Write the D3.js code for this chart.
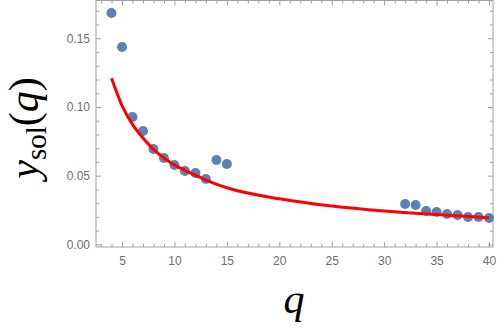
<!DOCTYPE html>
<html>
<head>
<meta charset="utf-8">
<script src="https://cdn.jsdelivr.net/npm/d3@7"></script>
<style>
  body { margin: 0; background: #fff; }
  svg { display: block; }
  .tick text { font-family: "Liberation Sans", Arial, sans-serif; font-size: 12px; fill: #6e6e6e; }
  .tick line, .domain { stroke: #a0a0a0; }
</style>
</head>
<body>
<svg id="chart" width="498" height="334"></svg>
<script>
// data points
var qValues = [4, 5, 6, 7, 8, 9, 10, 11, 12, 13, 14, 15, 32, 33, 34, 35, 36, 37, 38, 39, 40];
var ySol = [0.1684, 0.1437, 0.0927, 0.0825, 0.0694, 0.0629, 0.0578, 0.0534, 0.0520, 0.0476, 0.0614, 0.0585,
            0.0294, 0.0287, 0.0243, 0.0236, 0.0221, 0.0214, 0.0199, 0.0199, 0.0192];

// fitted curve, sampled by eye
var fitQ = [4, 5, 6, 7, 8, 9, 10, 11, 12, 13, 15, 20, 25, 30, 35, 40];
var fitY = [0.1209, 0.1010, 0.0873, 0.0774, 0.0692, 0.0629, 0.0578, 0.0539, 0.0503, 0.0468, 0.0412, 0.0332, 0.0279, 0.0243, 0.0217, 0.0193];

var xMajor = [5, 10, 15, 20, 25, 30, 35, 40];
var yMajor = [0, 0.05, 0.10, 0.15];

var plotLeft = 96, plotRight = 493, plotTop = 0.5, plotBottom = 247;

var svg = d3.select("#chart");

var x = d3.scaleLinear().domain([2.52, 40.38]).range([plotLeft, plotRight]);
var y = d3.scaleLinear().domain([-0.0019, 0.1775]).range([plotBottom, plotTop]);

var xMinor = d3.range(3, 41).filter(function (d) { return d % 5 !== 0; });
var yMinor = d3.range(1, 18).filter(function (d) { return d % 5 !== 0; }).map(function (d) { return d / 100; });

// frame
svg.append("rect")
    .attr("x", plotLeft).attr("y", plotTop)
    .attr("width", plotRight - plotLeft).attr("height", plotBottom - plotTop)
    .attr("fill", "none").attr("stroke", "#a0a0a0");

function addAxis(axis, tx, ty) {
    var g = svg.append("g").attr("transform", "translate(" + tx + "," + ty + ")").call(axis);
    g.select(".domain").remove();
    return g;
}

// bottom
addAxis(d3.axisBottom(x).tickValues(xMajor).tickSizeInner(-5).tickPadding(9).tickFormat(d3.format("d")), 0, plotBottom);
addAxis(d3.axisBottom(x).tickValues(xMinor).tickSizeInner(-3).tickFormat(""), 0, plotBottom);
// top
addAxis(d3.axisTop(x).tickValues(xMajor).tickSizeInner(-5).tickFormat(""), 0, plotTop);
addAxis(d3.axisTop(x).tickValues(xMinor).tickSizeInner(-3).tickFormat(""), 0, plotTop);
// left
addAxis(d3.axisLeft(y).tickValues(yMajor).tickSizeInner(-5).tickPadding(6).tickFormat(d3.format(".2f")), plotLeft, 0);
addAxis(d3.axisLeft(y).tickValues(yMinor).tickSizeInner(-3).tickFormat(""), plotLeft, 0);
// right
addAxis(d3.axisRight(y).tickValues(yMajor).tickSizeInner(-5).tickFormat(""), plotRight, 0);
addAxis(d3.axisRight(y).tickValues(yMinor).tickSizeInner(-3).tickFormat(""), plotRight, 0);

// points
svg.append("g").selectAll("circle")
    .data(qValues)
  .enter().append("circle")
    .attr("cx", function (d) { return x(d); })
    .attr("cy", function (d, i) { return y(ySol[i]); })
    .attr("r", 5)
    .attr("fill", "#5e81b5");

// fit line
var line = d3.line()
    .x(function (d) { return x(d); })
    .y(function (d, i) { return y(fitY[i]); })
    .curve(d3.curveMonotoneX);

svg.append("path")
    .datum(fitQ)
    .attr("d", line)
    .attr("fill", "none")
    .attr("stroke", "#ff0000")
    .attr("stroke-width", 3);

// axis labels
svg.append("text")
    .attr("x", 294).attr("y", 313)
    .attr("text-anchor", "middle")
    .style("font-family", "'Liberation Serif', 'Times New Roman', serif")
    .style("font-style", "italic")
    .style("font-size", "42px")
    .text("q");

var ylab = svg.append("text")
    .attr("transform", "translate(38,128) rotate(-90)")
    .attr("text-anchor", "middle")
    .style("font-family", "'Liberation Serif', 'Times New Roman', serif")
    .style("font-size", "42px");
ylab.append("tspan").style("font-style", "italic").text("y");
ylab.append("tspan").attr("dy", 8).style("font-size", "29px").text("sol");
ylab.append("tspan").attr("dy", -8).text("(");
ylab.append("tspan").style("font-style", "italic").text("q");
ylab.append("tspan").text(")");
</script>
</body>
</html>
